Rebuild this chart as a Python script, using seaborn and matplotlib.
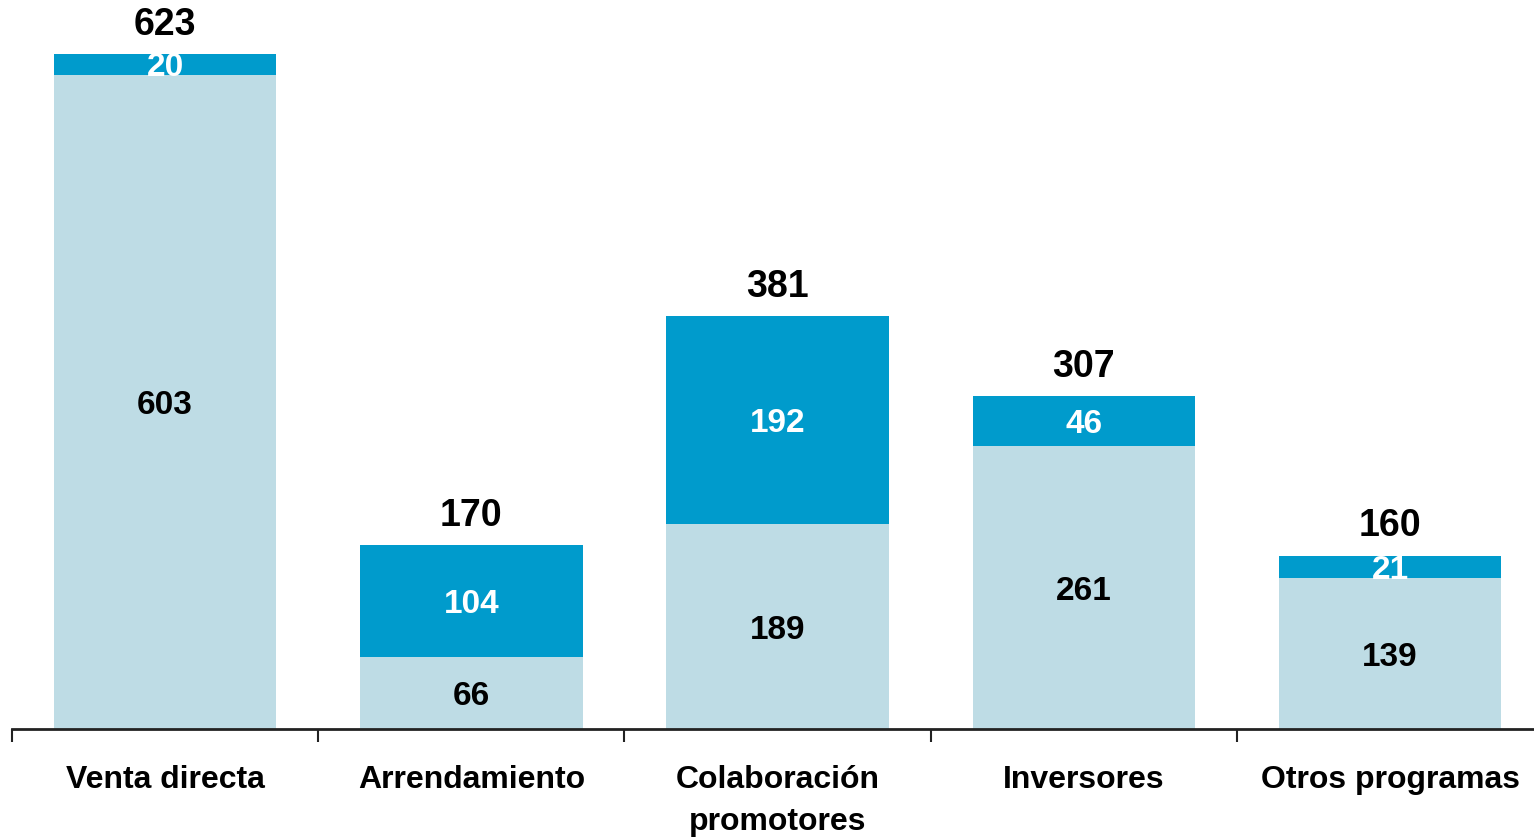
import matplotlib
matplotlib.use("Agg")
import matplotlib.pyplot as plt
import seaborn as sns
import pandas as pd
import numpy as np

categories = ["Venta directa", "Arrendamiento", "Colaboración\npromotores", "Inversores", "Otros programas"]
base_values = [603, 66, 189, 261, 139]
top_values = [20, 104, 192, 46, 21]
totals = [623, 170, 381, 307, 160]

light = "#BEDCE5"
dark = "#009BCC"

sns.set_theme(style="white")
plt.rcParams["font.family"] = ["Liberation Sans", "DejaVu Sans"]

df = pd.DataFrame({"cat": categories, "base": base_values, "top": top_values, "total": totals})

fig = plt.figure(figsize=(15.34, 8.38), dpi=100)
ax = fig.add_axes([12 / 1534, 109 / 838, 1 - 12 / 1534, 729 / 838])

# full stack height in dark, lower segment in light drawn over it
sns.barplot(data=df, x="cat", y="total", color=dark, width=0.727, saturation=1,
            linewidth=0, ax=ax)
sns.barplot(data=df, x="cat", y="base", color=light, width=0.727, saturation=1,
            linewidth=0, ax=ax)

ax.set_xlim(-0.5, 4.47)
ax.set_ylim(0, 672.5)

for i, (b, t, tot) in enumerate(zip(base_values, top_values, totals)):
    ax.text(i, b / 2, f"{b}", ha="center", va="center_baseline", fontsize=24,
            fontweight="bold", color="black")
    ax.text(i, b + t / 2, f"{t}", ha="center", va="center_baseline", fontsize=24,
            fontweight="bold", color="white")
    ax.annotate(f"{tot}", (i, tot), xytext=(0, 8), textcoords="offset points",
                ha="center", va="bottom", fontsize=27, fontweight="bold", color="black")

for s in ["top", "right", "left"]:
    ax.spines[s].set_visible(False)
ax.spines["bottom"].set_color("#222222")
ax.spines["bottom"].set_linewidth(2)

ax.set_yticks([])
ax.set_xlabel("")
ax.set_ylabel("")
ax.set_xticks(range(len(categories)))
ax.set_xticklabels(categories, fontsize=23, fontweight="bold", linespacing=1.5, color="black")
ax.tick_params(axis="x", which="major", length=0, pad=26, bottom=True)
ax.set_xticks(np.arange(-0.5, 4.0, 1.0), minor=True)
ax.tick_params(axis="x", which="minor", length=9, width=1.5, color="#222222",
               direction="out", bottom=True)

fig.savefig("out.png", dpi=100)
